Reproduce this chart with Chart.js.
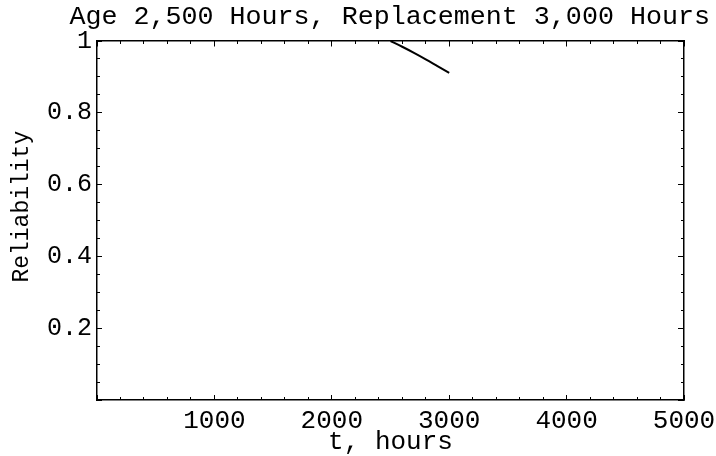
<!DOCTYPE html>
<html>
<head>
<meta charset="utf-8">
<script src="https://cdn.jsdelivr.net/npm/chart.js@4.4.1/dist/chart.umd.min.js"></script>
<style>
  html, body { margin: 0; padding: 0; background: #fff; }
  #contenedor { width: 716px; height: 456px; }
</style>
</head>
<body>
<div id="contenedor"><canvas id="miGrafico"></canvas></div>
<script>
// Datos
const horas = [2500, 2600, 2700, 2800, 2900, 3000];
const confiabilidad = [1.0, 0.984, 0.967, 0.949, 0.930, 0.911];

// Marcas con etiqueta
const etiquetasX = [1000, 2000, 3000, 4000, 5000];
const etiquetasY = [0.2, 0.4, 0.6, 0.8, 1];

const titulo = 'Age 2,500 Hours, Replacement 3,000 Hours';
const tituloX = 't, hours';
const tituloY = '  Reliability';

const fuente = "'Courier New', Courier, 'Liberation Mono', monospace";
const negro = '#000';

// Ejes solo para dibujar las marcas hacia dentro del marco
function ejeMarcas(eje, posicion, paso, largo, borde) {
  return {
    type: 'linear',
    axis: eje,
    position: posicion,
    min: 0,
    max: eje === 'x' ? 5000 : 1,
    ticks: { display: false, stepSize: paso, autoSkip: false },
    grid: { drawOnChartArea: false, drawTicks: true, tickLength: largo, tickColor: negro, tickWidth: 1 },
    border: { display: borde, color: negro, width: 1.5 }
  };
}

var configuracion = {
  type: 'line',
  data: {
    datasets: [{
      data: horas.map((h, i) => ({ x: h, y: confiabilidad[i] })),
      borderColor: negro,
      borderWidth: 2,
      pointRadius: 0,
      cubicInterpolationMode: 'monotone',
      fill: false
    }]
  },
  options: {
    responsive: true,
    maintainAspectRatio: false,
    animation: false,
    layout: { padding: { left: 0, right: 6, top: 0, bottom: 0 } },
    plugins: {
      legend: { display: false },
      tooltip: { enabled: false },
      title: {
        display: true, text: titulo, color: negro, align: 'end',
        font: { family: fuente, size: 26.7, weight: 'normal', lineHeight: 1 },
        padding: { top: 4, bottom: 10.3 }
      }
    },
    scales: {
      x: {
        type: 'linear',
        position: 'bottom',
        min: 0,
        max: 5000,
        grid: { display: false, drawTicks: false },
        border: { display: true, color: negro, width: 1.5 },
        afterBuildTicks: (s) => { s.ticks = etiquetasX.map(v => ({ value: v })); },
        afterFit: (s) => { s.height = 56; s.paddingLeft = 0; s.paddingRight = 32; },
        ticks: {
          color: negro, padding: 8, autoSkip: false, maxRotation: 0,
          font: { family: fuente, size: 26, lineHeight: 1 },
          callback: (v) => String(v)
        },
        title: {
          display: true, text: tituloX, color: negro,
          font: { family: fuente, size: 26, lineHeight: 1 },
          padding: { top: 0, bottom: 1 }
        }
      },
      y: {
        type: 'linear',
        position: 'left',
        min: 0,
        max: 1,
        grid: { display: false, drawTicks: false },
        border: { display: true, color: negro, width: 1.5 },
        afterBuildTicks: (s) => { s.ticks = etiquetasY.map(v => ({ value: v })); },
        afterFit: (s) => { s.width = 97; s.paddingTop = 0; s.paddingBottom = 0; },
        ticks: {
          color: negro, padding: 5,
          font: { family: fuente, size: 25, lineHeight: 1 },
          callback: (v) => String(v)
        },
        title: {
          display: true, text: tituloY, color: negro,
          font: { family: fuente, size: 23, lineHeight: 1 },
          padding: { top: 10, bottom: 0 }
        }
      },
      xMayAbajo: ejeMarcas('x', { y: 0 }, 1000, -5, false),
      xMenAbajo: ejeMarcas('x', { y: 0 }, 200, -3, false),
      xMayArriba: ejeMarcas('x', { y: 1 }, 1000, 5, true),
      xMenArriba: ejeMarcas('x', { y: 1 }, 200, 3, false),
      yMayIzq: ejeMarcas('y', { x: 0 }, 0.2, -5, false),
      yMenIzq: ejeMarcas('y', { x: 0 }, 0.05, -3, false),
      yMayDer: ejeMarcas('y', { x: 5000 }, 0.2, 5, true),
      yMenDer: ejeMarcas('y', { x: 5000 }, 0.05, 3, false)
    }
  }
};

var contexto = document.getElementById('miGrafico').getContext('2d');
var miGrafico = new Chart(contexto, configuracion);
</script>
</body>
</html>
